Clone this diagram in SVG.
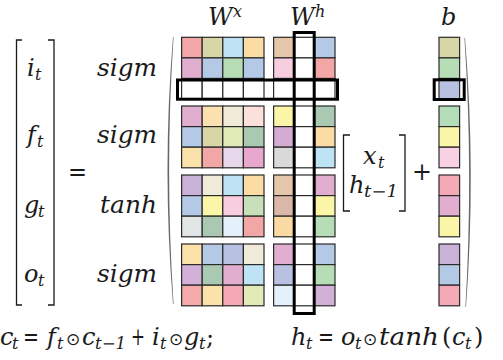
<svg xmlns="http://www.w3.org/2000/svg" width="503" height="360" viewBox="0 0 503 360">
<style>
.m{font-family:"DejaVu Serif","Liberation Serif",serif;font-style:italic;font-size:24px;fill:#1a1a1a}
.r{font-family:"DejaVu Serif","Liberation Serif",serif;font-style:normal;font-size:24px;fill:#1a1a1a}
.s{font-size:16px}
.od{font-family:"DejaVu Sans",sans-serif;font-style:normal;font-size:17px;fill:#1a1a1a}
.c rect{stroke:#2a2a2a;stroke-width:1.2}
.hl{fill:none;stroke:#000;stroke-width:3}
.br{fill:none;stroke:#1a1a1a;stroke-width:1.3}
.pa{fill:#666;stroke:none}
</style>
<rect width="503" height="360" fill="#fff"/>

<g id="lhs">
<path class="br" d="M22,40 H16.5 V305 H22 M48,40 H54 V305 H48"/>
<text class="m" x="27" y="76">i<tspan class="s" x="35" dy="4">t</tspan></text>
<text class="m" x="27" y="143">f<tspan class="s" x="37" dy="4">t</tspan></text>
<text class="m" x="24" y="213">g<tspan class="s" x="38" dy="4">t</tspan></text>
<text class="m" x="24" y="282">o<tspan class="s" x="38" dy="4">t</tspan></text>
<text class="r" x="68" y="180" textLength="19" lengthAdjust="spacingAndGlyphs">=</text>
</g>

<g id="activations">
<text class="m" x="97" y="76" textLength="60" lengthAdjust="spacingAndGlyphs">sigm</text>
<text class="m" x="97" y="143" textLength="60" lengthAdjust="spacingAndGlyphs">sigm</text>
<text class="m" x="100" y="213" textLength="57" lengthAdjust="spacingAndGlyphs">tanh</text>
<text class="m" x="97" y="282" textLength="60" lengthAdjust="spacingAndGlyphs">sigm</text>
</g>

<g id="parens">
<path class="pa" d="M173,37 Q162,170 173,304 L173.6,304 Q164.6,170 173.6,37 Z"/>
<path class="pa" d="M465,38 Q476,172 466,307 L465.4,307 Q473.4,172 464.4,38 Z"/>
</g>

<g id="Wx" class="c">
<text class="m" x="208" y="25">W<tspan class="s" x="233" dy="-8">x</tspan></text>
<rect x="181.6" y="37.3" width="20.6" height="20.6" fill="#F2A7A6"/>
<rect x="202.2" y="37.3" width="20.6" height="20.6" fill="#D8D5A6"/>
<rect x="222.8" y="37.3" width="20.6" height="20.6" fill="#BDE3F5"/>
<rect x="243.4" y="37.3" width="20.6" height="20.6" fill="#FBDCA4"/>
<rect x="181.6" y="57.9" width="20.6" height="20.6" fill="#E1AED0"/>
<rect x="202.2" y="57.9" width="20.6" height="20.6" fill="#B3C9E6"/>
<rect x="222.8" y="57.9" width="20.6" height="20.6" fill="#B7DDB7"/>
<rect x="243.4" y="57.9" width="20.6" height="20.6" fill="#B3C9E6"/>
<rect x="181.6" y="78.5" width="20.6" height="20.6" fill="#fff"/>
<rect x="202.2" y="78.5" width="20.6" height="20.6" fill="#fff"/>
<rect x="222.8" y="78.5" width="20.6" height="20.6" fill="#fff"/>
<rect x="243.4" y="78.5" width="20.6" height="20.6" fill="#fff"/>

<rect x="181.6" y="106" width="20.6" height="20.6" fill="#E1AED0"/>
<rect x="202.2" y="106" width="20.6" height="20.6" fill="#FBE0B0"/>
<rect x="222.8" y="106" width="20.6" height="20.6" fill="#EFEBD8"/>
<rect x="243.4" y="106" width="20.6" height="20.6" fill="#FCE0DA"/>
<rect x="181.6" y="126.6" width="20.6" height="20.6" fill="#B3C9E6"/>
<rect x="202.2" y="126.6" width="20.6" height="20.6" fill="#D8D5A6"/>
<rect x="222.8" y="126.6" width="20.6" height="20.6" fill="#E0EBB8"/>
<rect x="243.4" y="126.6" width="20.6" height="20.6" fill="#A9C9B3"/>
<rect x="181.6" y="147.2" width="20.6" height="20.6" fill="#FBE1AA"/>
<rect x="202.2" y="147.2" width="20.6" height="20.6" fill="#F2A7A6"/>
<rect x="222.8" y="147.2" width="20.6" height="20.6" fill="#E6D8EA"/>
<rect x="243.4" y="147.2" width="20.6" height="20.6" fill="#E8A8CE"/>

<rect x="181.6" y="175" width="20.6" height="20.6" fill="#C9B1D8"/>
<rect x="202.2" y="175" width="20.6" height="20.6" fill="#EFEBD8"/>
<rect x="222.8" y="175" width="20.6" height="20.6" fill="#BDE3F5"/>
<rect x="243.4" y="175" width="20.6" height="20.6" fill="#FBDCA4"/>
<rect x="181.6" y="195.6" width="20.6" height="20.6" fill="#B3C9E6"/>
<rect x="202.2" y="195.6" width="20.6" height="20.6" fill="#FBF5A8"/>
<rect x="222.8" y="195.6" width="20.6" height="20.6" fill="#F8CDE0"/>
<rect x="243.4" y="195.6" width="20.6" height="20.6" fill="#C7E0BA"/>
<rect x="181.6" y="216.2" width="20.6" height="20.6" fill="#E1E5E5"/>
<rect x="202.2" y="216.2" width="20.6" height="20.6" fill="#A9C9B3"/>
<rect x="222.8" y="216.2" width="20.6" height="20.6" fill="#E5F1FA"/>
<rect x="243.4" y="216.2" width="20.6" height="20.6" fill="#F2A7A6"/>

<rect x="181.6" y="244" width="20.6" height="20.6" fill="#FBE1AA"/>
<rect x="202.2" y="244" width="20.6" height="20.6" fill="#B3C9E6"/>
<rect x="222.8" y="244" width="20.6" height="20.6" fill="#B9C1E2"/>
<rect x="243.4" y="244" width="20.6" height="20.6" fill="#EFEBD8"/>
<rect x="181.6" y="264.6" width="20.6" height="20.6" fill="#D3B0D8"/>
<rect x="202.2" y="264.6" width="20.6" height="20.6" fill="#A9C9B3"/>
<rect x="222.8" y="264.6" width="20.6" height="20.6" fill="#E1AED0"/>
<rect x="243.4" y="264.6" width="20.6" height="20.6" fill="#BDE3F5"/>
<rect x="181.6" y="285.2" width="20.6" height="20.6" fill="#F5A9A9"/>
<rect x="202.2" y="285.2" width="20.6" height="20.6" fill="#FBE1AA"/>
<rect x="222.8" y="285.2" width="20.6" height="20.6" fill="#F5A9B6"/>
<rect x="243.4" y="285.2" width="20.6" height="20.6" fill="#E0EBB8"/>
</g>

<g id="Wh" class="c">
<text class="m" x="290" y="25">W<tspan class="s" x="315" dy="-8">h</tspan></text>
<rect x="273.6" y="37.3" width="20.6" height="20.6" fill="#E5C6A8"/>
<rect x="294.2" y="37.3" width="20.2" height="20.6" fill="#fff"/>
<rect x="314.4" y="37.3" width="20.6" height="20.6" fill="#B3C9E6"/>
<rect x="273.6" y="57.9" width="20.6" height="20.6" fill="#F8CDE0"/>
<rect x="294.2" y="57.9" width="20.2" height="20.6" fill="#fff"/>
<rect x="314.4" y="57.9" width="20.6" height="20.6" fill="#F2A7A6"/>
<rect x="273.6" y="78.5" width="20.6" height="20.6" fill="#fff"/>
<rect x="294.2" y="78.5" width="20.2" height="20.6" fill="#fff"/>
<rect x="314.4" y="78.5" width="20.6" height="20.6" fill="#fff"/>

<rect x="273.6" y="106" width="20.6" height="20.6" fill="#FBF5A8"/>
<rect x="294.2" y="106" width="20.2" height="20.6" fill="#fff"/>
<rect x="314.4" y="106" width="20.6" height="20.6" fill="#A9C9B3"/>
<rect x="273.6" y="126.6" width="20.6" height="20.6" fill="#D3ABD3"/>
<rect x="294.2" y="126.6" width="20.2" height="20.6" fill="#fff"/>
<rect x="314.4" y="126.6" width="20.6" height="20.6" fill="#FBDCA4"/>
<rect x="273.6" y="147.2" width="20.6" height="20.6" fill="#D9D9D9"/>
<rect x="294.2" y="147.2" width="20.2" height="20.6" fill="#fff"/>
<rect x="314.4" y="147.2" width="20.6" height="20.6" fill="#BDE3F5"/>

<rect x="273.6" y="175" width="20.6" height="20.6" fill="#E5C6A8"/>
<rect x="294.2" y="175" width="20.2" height="20.6" fill="#fff"/>
<rect x="314.4" y="175" width="20.6" height="20.6" fill="#E1AED0"/>
<rect x="273.6" y="195.6" width="20.6" height="20.6" fill="#DAB7A8"/>
<rect x="294.2" y="195.6" width="20.2" height="20.6" fill="#fff"/>
<rect x="314.4" y="195.6" width="20.6" height="20.6" fill="#FBF5A8"/>
<rect x="273.6" y="216.2" width="20.6" height="20.6" fill="#FBD9A2"/>
<rect x="294.2" y="216.2" width="20.2" height="20.6" fill="#fff"/>
<rect x="314.4" y="216.2" width="20.6" height="20.6" fill="#B7DDB7"/>

<rect x="273.6" y="244" width="20.6" height="20.6" fill="#E1AED0"/>
<rect x="294.2" y="244" width="20.2" height="20.6" fill="#fff"/>
<rect x="314.4" y="244" width="20.6" height="20.6" fill="#B3C9E6"/>
<rect x="273.6" y="264.6" width="20.6" height="20.6" fill="#B9C1E2"/>
<rect x="294.2" y="264.6" width="20.2" height="20.6" fill="#fff"/>
<rect x="314.4" y="264.6" width="20.6" height="20.6" fill="#B7DDB7"/>
<rect x="273.6" y="285.2" width="20.6" height="20.6" fill="#E5F1FA"/>
<rect x="294.2" y="285.2" width="20.2" height="20.6" fill="#fff"/>
<rect x="314.4" y="285.2" width="20.6" height="20.6" fill="#D3B0D8"/>
</g>

<g id="input">
<path class="br" d="M350,135 H343.5 V211 H350 M399,135 H405 V211 H399"/>
<text class="m" x="363" y="164">x<tspan class="s" x="378" dy="4">t</tspan></text>
<text class="m" x="349" y="193">h<tspan class="s" x="364" dy="4" textLength="34" lengthAdjust="spacingAndGlyphs">t−1</tspan></text>
<text class="r" x="412" y="180" textLength="20" lengthAdjust="spacingAndGlyphs">+</text>
</g>

<g id="b" class="c">
<text class="m" x="441" y="25">b</text>
<rect x="439" y="37.3" width="20.6" height="20.6" fill="#D8D5A6"/>
<rect x="439" y="57.9" width="20.6" height="20.6" fill="#B7DDB7"/>
<rect x="439" y="78.5" width="20.6" height="20.6" fill="#B9C1E2"/>
<rect x="439" y="106" width="20.6" height="20.6" fill="#B3DDB9"/>
<rect x="439" y="126.6" width="20.6" height="20.6" fill="#FBF5A8"/>
<rect x="439" y="147.2" width="20.6" height="20.6" fill="#F8D2E2"/>
<rect x="439" y="175" width="20.6" height="20.6" fill="#F5A9B6"/>
<rect x="439" y="195.6" width="20.6" height="20.6" fill="#E1AED0"/>
<rect x="439" y="216.2" width="20.6" height="20.6" fill="#FBF5A8"/>
<rect x="439" y="244" width="20.6" height="20.6" fill="#C9B1D8"/>
<rect x="439" y="264.6" width="20.6" height="20.6" fill="#B3C9E6"/>
<rect x="439" y="285.2" width="20.6" height="20.6" fill="#F5A9B6"/>
</g>

<g id="highlights">
<rect class="hl" x="177.5" y="80" width="160" height="19.2"/>
<rect class="hl" x="294.2" y="32.5" width="20" height="281"/>
<rect class="hl" x="434.2" y="79.8" width="30" height="19.7"/>
</g>

<g id="equation">
<text class="m" x="0" y="345">c<tspan class="s" x="12" dy="4">t</tspan></text>
<text class="r" x="23" y="345" textLength="16" lengthAdjust="spacingAndGlyphs">=</text>
<text class="m" x="47" y="345">f<tspan class="s" x="57" dy="4">t</tspan></text>
<text class="od" x="66" y="345">⊙</text>
<text class="m" x="82" y="345">c<tspan class="s" x="95" dy="4" textLength="31" lengthAdjust="spacingAndGlyphs">t−1</tspan></text>
<text class="r" x="131" y="345" textLength="14" lengthAdjust="spacingAndGlyphs">+</text>
<text class="m" x="152" y="345">i<tspan class="s" x="160" dy="4">t</tspan></text>
<text class="od" x="169" y="345">⊙</text>
<text class="m" x="184" y="345">g<tspan class="s" x="199" dy="4">t</tspan><tspan class="r" x="206" dy="-4">;</tspan></text>
<text class="m" x="291" y="345">h<tspan class="s" x="306" dy="4">t</tspan></text>
<text class="r" x="318" y="345" textLength="16" lengthAdjust="spacingAndGlyphs">=</text>
<text class="m" x="341" y="345">o<tspan class="s" x="355" dy="4">t</tspan></text>
<text class="od" x="363" y="345">⊙</text>
<text class="m" x="379" y="345" textLength="60" lengthAdjust="spacingAndGlyphs">tanh</text>
<text class="r" x="442" y="345">(</text>
<text class="m" x="452" y="345">c<tspan class="s" x="465" dy="4">t</tspan></text>
<text class="r" x="474" y="345">)</text>
</g>
</svg>
